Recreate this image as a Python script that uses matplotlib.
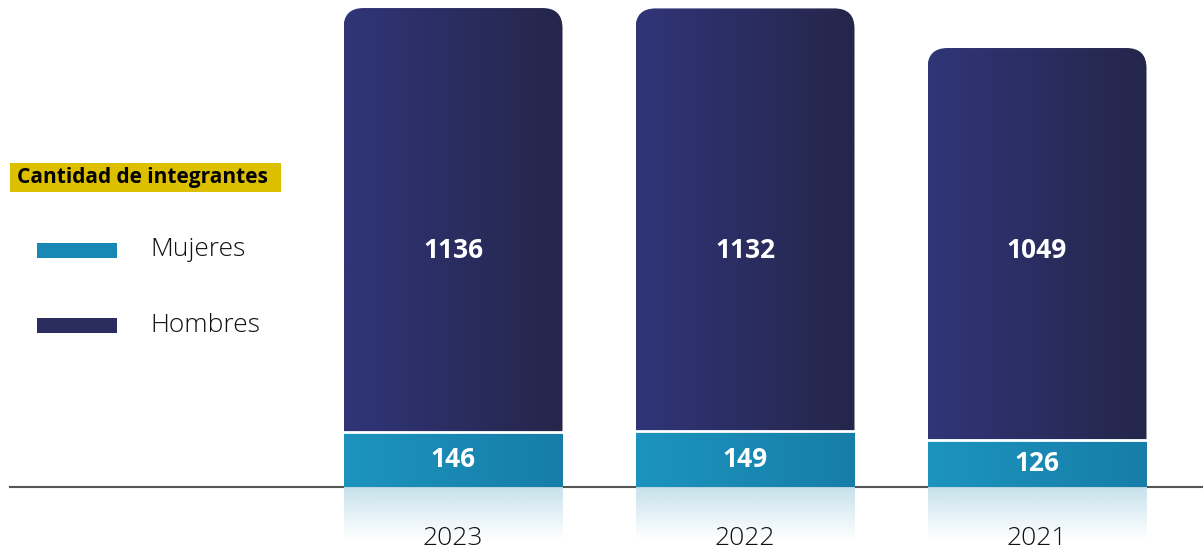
import matplotlib
matplotlib.use("Agg")
import matplotlib.pyplot as plt
import numpy as np
from matplotlib.patches import FancyBboxPatch, Rectangle

# Data
years = ["2023", "2022", "2021"]
mujeres = [146, 149, 126]
hombres = [1136, 1132, 1049]

plt.rcParams["font.family"] = ["Open Sans", "DejaVu Sans"]

W, H = 1203, 552
fig = plt.figure(figsize=(W / 100, H / 100), dpi=100, facecolor="white")
ax = fig.add_axes([0, 0, 1, 1])

# Scale: pixels per unit
base_px = 65          # baseline height above bottom, in px
py = 0.3736          # px per y unit
px = 292             # px per x unit
x0_px = 453          # centre of first bar
ax.set_xlim(-x0_px / px, (W - x0_px) / px)
ax.set_ylim(-base_px / py, (H - base_px) / py)
ax.axis("off")

bar_w = 219 / px
rad_x = 20 / px
aspect = (20 / py) / rad_x

c_h_left, c_h_right = np.array([0x30, 0x35, 0x78]) / 255, np.array([0x25, 0x26, 0x4a]) / 255
c_m_left, c_m_right = np.array([0x1c, 0x94, 0xbe]) / 255, np.array([0x16, 0x7e, 0xa8]) / 255
c_ref = np.array([0xc2, 0xdf, 0xea]) / 255


def hgrad(c1, c2, n=64):
    t = np.linspace(0, 1, n)[None, :, None]
    return (c1 * (1 - t) + c2 * t)


ymin, ymax = ax.get_ylim()
x = np.arange(len(years))

# baseline
ax.plot([(10 - x0_px) / px, (W - x0_px) / px], [0, 0], color="#555555", lw=1.5, zorder=1)

for i, (m, h) in enumerate(zip(mujeres, hombres)):
    left = x[i] - bar_w / 2
    # hombres segment with rounded top (bottom corners pushed below the split)
    patch = FancyBboxPatch((left, m - 80), bar_w, h + 80,
                           boxstyle=f"round,pad=0,rounding_size={rad_x}",
                           mutation_aspect=aspect, facecolor="none", edgecolor="none")
    ax.add_patch(patch)
    im = ax.imshow(hgrad(c_h_left, c_h_right), extent=[left, left + bar_w, m, m + h],
                   aspect="auto", zorder=2, interpolation="bilinear")
    im.set_clip_path(patch)
    # mujeres segment
    ax.imshow(hgrad(c_m_left, c_m_right), extent=[left, left + bar_w, 0, m],
              aspect="auto", zorder=2, interpolation="bilinear")
    # white separator
    ax.plot([left, left + bar_w], [m, m], color="white", lw=2, zorder=3)
    # reflection
    t = np.linspace(0, 1, 64)[:, None, None]
    refl = np.concatenate([np.broadcast_to(c_ref, (64, 1, 3)), (1 - t) ** 1.1 * 0.95], axis=2)
    ax.imshow(refl, extent=[left, left + bar_w, -145, 0], aspect="auto",
              zorder=1.5, interpolation="bilinear")
    # labels
    ax.text(x[i], m / 2, str(m), color="white", fontsize=19, fontweight="bold",
            ha="center", va="center", zorder=4)
    ax.text(x[i], 632, str(h), color="white", fontsize=19, fontweight="bold",
            ha="center", va="center", zorder=4)
    ax.text(x[i], -138, years[i], color="#111111", fontsize=19, fontweight="light",
            ha="center", va="center", zorder=4)

ax.set_xlim(-x0_px / px, (W - x0_px) / px)
ax.set_ylim(ymin, ymax)

# title box
fig.patches.append(Rectangle((10 / W, 1 - 192 / H), 271 / W, 29 / H, transform=fig.transFigure,
                             facecolor="#dcc000", edgecolor="none"))
fig.text(17 / W, 1 - 178 / H, "Cantidad de integrantes", fontsize=15, fontweight="bold",
         color="black", ha="left", va="center")

# legend
fig.patches.append(Rectangle((37 / W, 1 - 258 / H), 80 / W, 15 / H, transform=fig.transFigure,
                             facecolor="#1889b4", edgecolor="none"))
fig.patches.append(Rectangle((37 / W, 1 - 333 / H), 80 / W, 15 / H, transform=fig.transFigure,
                             facecolor="#2a2d5e", edgecolor="none"))
fig.text(150 / W, 1 - 250 / H, "Mujeres", fontsize=19, fontweight="light", color="#111111",
         ha="left", va="center")
fig.text(150 / W, 1 - 325 / H, "Hombres", fontsize=19, fontweight="light", color="#111111",
         ha="left", va="center")

fig.savefig("out.png", dpi=100, facecolor="white")
